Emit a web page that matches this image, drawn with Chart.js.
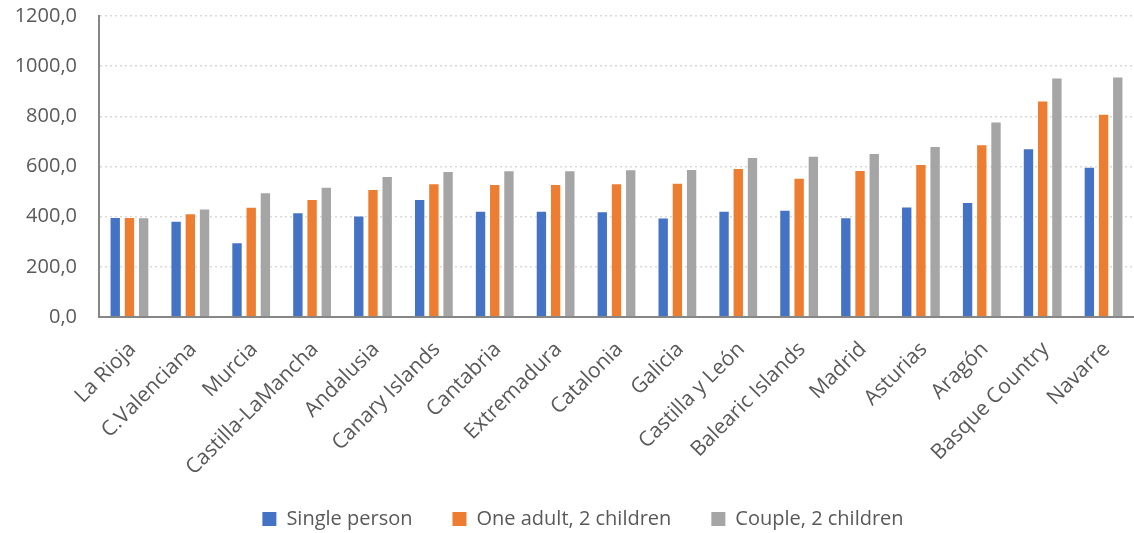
<!DOCTYPE html>
<html>
<head>
<meta charset="utf-8">
<script src="https://cdn.jsdelivr.net/npm/chart.js@4.4.1/dist/chart.umd.min.js"></script>
<style>
  html, body { margin: 0; padding: 0; background: #ffffff; overflow: hidden; }
  #wrap { width: 1134px; height: 533px; position: relative; }
</style>
</head>
<body>
<div id="wrap"><canvas id="chart"></canvas></div>
<script>
// Regions of Spain
const regions = [
  'La Rioja', 'C.Valenciana', 'Murcia', 'Castilla-LaMancha', 'Andalusia',
  'Canary Islands', 'Cantabria', 'Extremadura', 'Catalonia', 'Galicia',
  'Castilla y León', 'Balearic Islands', 'Madrid', 'Asturias', 'Aragón',
  'Basque Country', 'Navarre'
];

// Monthly amounts per household type
const singlePerson = [399, 384, 298, 418, 405, 470, 424, 424, 422, 397, 424, 428, 398, 441, 458, 673, 599];
const oneAdultTwoChildren = [399, 414, 440, 470, 510, 533, 530, 530, 533, 535, 594, 555, 586, 610, 689, 863, 810];
const coupleTwoChildren = [398, 433, 497, 519, 562, 582, 585, 585, 589, 590, 638, 643, 654, 682, 779, 955, 959];

const seriesNames = ['Single person', 'One adult, 2 children', 'Couple, 2 children'];
const yTicks = [0, 200, 400, 600, 800, 1000, 1200];

const colors = ['#4472C4', '#ED7D31', '#A5A5A5'];
const textColor = '#595959';
const fontFamily = "'Open Sans', sans-serif";

const formatTick = v => v.toFixed(1).replace('.', ',');

// Legend spacing: wide gaps between items, but a compact box at the bottom
const LEGEND_GAP = 40;
const LEGEND_HEIGHT = 64;
const LEGEND_SHIFT = 14;
const compactLegend = {
  id: 'compactLegend',
  beforeLayout(chart) {
    const legend = chart.legend;
    if (legend && !legend._compact) {
      const fit = legend.fit;
      legend.fit = function () {
        fit.call(this);
        this.height = LEGEND_HEIGHT;
      };
      legend._compact = true;
    }
  },
  afterLayout(chart) {
    if (chart.legend) chart.legend.left += LEGEND_SHIFT;
  }
};

new Chart(document.getElementById('chart'), {
  type: 'bar',
  data: {
    labels: regions,
    datasets: [singlePerson, oneAdultTwoChildren, coupleTwoChildren].map((values, i) => ({
      label: seriesNames[i],
      data: values,
      backgroundColor: colors[i],
      borderColor: 'rgba(255,255,255,0.45)',
      borderWidth: 1,
      barPercentage: 0.8,
      categoryPercentage: 0.7
    }))
  },
  plugins: [compactLegend],
  options: {
    responsive: true,
    maintainAspectRatio: false,
    animation: false,
    layout: { padding: { left: 11, right: -7, top: 16, bottom: 0 } },
    plugins: {
      legend: {
        position: 'bottom',
        labels: {
          color: textColor,
          font: { family: fontFamily, size: 20 },
          boxWidth: 14,
          boxHeight: 14,
          padding: LEGEND_GAP,
          generateLabels: chart => chart.data.datasets.map((ds, i) => ({
            text: ds.label,
            fillStyle: ds.backgroundColor,
            strokeStyle: ds.backgroundColor,
            lineWidth: 0,
            fontColor: textColor,
            datasetIndex: i,
            hidden: false
          }))
        }
      },
      tooltip: { enabled: false }
    },
    scales: {
      x: {
        grid: { display: false, drawTicks: false },
        border: { display: true, color: '#868686', width: 2 },
        afterFit: s => {
          s.paddingLeft = 0;
          s.paddingRight = 0;
          s.height = 152;
          // let the long rotated names run past the axis box
          s._computeLabelArea = () => undefined;
        },
        ticks: {
          color: textColor,
          font: { family: fontFamily, size: 21 },
          minRotation: 45,
          maxRotation: 45,
          autoSkip: false,
          padding: 20,
          labelOffset: 3
        }
      },
      y: {
        min: 0,
        max: 1200,
        afterBuildTicks: axis => { axis.ticks = yTicks.map(v => ({ value: v })); },
        afterFit: s => { s.paddingTop = 0; s.paddingBottom = 0; s.width = 88; },
        grid: { color: '#d9d9d9', lineWidth: 1.5, drawTicks: false },
        border: { display: true, color: '#868686', width: 2, dash: [2, 3] },
        ticks: {
          color: textColor,
          font: { family: fontFamily, size: 20 },
          padding: 22,
          callback: v => formatTick(v)
        }
      }
    }
  }
});
</script>
</body>
</html>
